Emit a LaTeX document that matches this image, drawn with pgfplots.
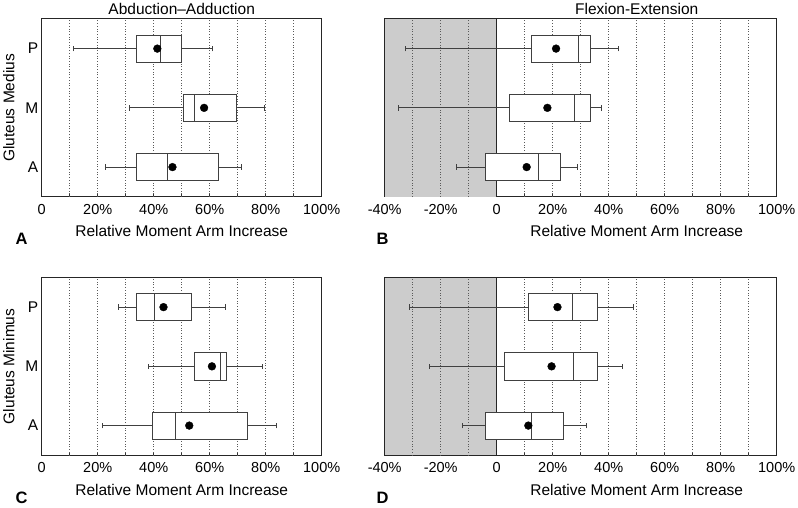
\documentclass[border=0pt]{standalone}
\usepackage{fontspec}
\setmainfont{Liberation Sans}
\usepackage{pgfplots}
\pgfplotsset{compat=1.18}
\pgfplotsset{
  panel/.style={
    scale only axis, height=177.7pt, anchor=south west,
    ymin=0.5, ymax=3.5, xmax=100, ytick={1,2,3},
    axis line style={black!85, line width=1pt},
    tick align=inside, major tick length=2.5pt, minor tick length=2.5pt,
    xtick pos=left,
    xtick style={black!80, line width=0.6pt},
    ytick style={draw=none},
    xticklabel style={font=\fontsize{14.5}{16}\selectfont, anchor=base, yshift=-17.6pt},
    yticklabel style={font=\fontsize{15.5}{17}\selectfont},
    xlabel={Relative Moment Arm Increase},
    label style={font=\fontsize{15.5}{18}\selectfont},
    title style={font=\fontsize{15.5}{18}\selectfont, anchor=base},
    clip=false,
  },
  panelL/.style={panel, width=280pt, xmin=0,
    xtick={0,20,40,60,80,100}, minor xtick={10,30,50,70,90},
    xticklabels={0,20\%,40\%,60\%,80\%,100\%},
    yticklabels={A,M,P},
    xlabel style={at={(rel axis cs:0.5,0)}, anchor=base, yshift=-40pt},
    title style={at={(rel axis cs:0.5,1)}, yshift=-1.3pt},
    ylabel style={at={(rel axis cs:0,0.5)}, anchor=base, yshift=27.4pt},
  },
  panelR/.style={panel, width=392pt, xmin=-40,
    xtick={-40,-20,0,20,40,60,80,100}, minor xtick={-30,-10,10,30,50,70,90},
    xticklabels={-40\%,-20\%,0,20\%,40\%,60\%,80\%,100\%},
    yticklabels={},
    xlabel style={at={(rel axis cs:0.642857,0)}, anchor=base, yshift=-40pt},
    title style={at={(rel axis cs:0.642857,1)}, yshift=-1.3pt},
  },
  gridst/.style={dotted, black!65, line width=0.7pt, forget plot},
  bxs/.style={draw=black!75, line width=0.85pt, solid, forget plot, mark=none},
  meanst/.style={only marks, mark=*, mark size=3.9pt, black, mark options={fill=black, draw=black}, forget plot},
  shade/.style={fill=black!20, draw=none, forget plot},
  zeroline/.style={black!85, line width=0.9pt, forget plot},
}
% #1 position, #2 lower whisker, #3 Q1, #4 median, #5 Q3, #6 upper whisker
\newcommand{\bx}[6]{%
  \pgfmathsetmacro\blo{#1-0.23}\pgfmathsetmacro\bhi{#1+0.23}%
  \pgfmathsetmacro\clo{#1-0.045}\pgfmathsetmacro\chi{#1+0.045}%
  \edef\doit{%
  \noexpand\addplot[bxs] coordinates {(#2,#1) (#3,#1)};
  \noexpand\addplot[bxs] coordinates {(#5,#1) (#6,#1)};
  \noexpand\addplot[bxs] coordinates {(#2,\clo) (#2,\chi)};
  \noexpand\addplot[bxs] coordinates {(#6,\clo) (#6,\chi)};
  \noexpand\addplot[bxs, fill=white] coordinates {(#3,\blo) (#5,\blo) (#5,\bhi) (#3,\bhi)} -- cycle;
  \noexpand\addplot[bxs] coordinates {(#4,\blo) (#4,\bhi)};
  }\doit}
\newcommand{\grid}[1]{%
  \pgfplotsinvokeforeach{#1}{\addplot[gridst] coordinates {(##1,0.5) (##1,3.5)};}}
\begin{document}
\begin{tikzpicture}
\path[use as bounding box] (0,0) rectangle (798pt,-508pt);

% Panel A
\begin{axis}[panelL, at={(41.7pt,-196.7pt)}, title={Abduction\textendash Adduction}, ylabel={Gluteus Medius}]
\grid{10,20,30,40,50,60,70,80,90}
\bx{3}{11.3}{33.7}{42.5}{49.9}{60.8}
\bx{2}{31.2}{50.6}{54.5}{69.5}{79.5}
\bx{1}{22.7}{33.9}{44.9}{63.2}{71.2}
\addplot[meanst] coordinates {(41.3,3) (58.0,2) (46.7,1)};
\end{axis}

% Panel B
\begin{axis}[panelR, at={(384.7pt,-196.7pt)}, title={Flexion-Extension}]
\addplot[shade] coordinates {(-40,0.5) (0,0.5) (0,3.5) (-40,3.5)} -- cycle;
\grid{-30,-20,-10,10,20,30,40,50,60,70,80,90}
\addplot[zeroline] coordinates {(0,0.5) (0,3.5)};
\bx{3}{-32.7}{12.4}{29.2}{33.3}{43.6}
\bx{2}{-35.1}{4.4}{27.9}{33.3}{37.5}
\bx{1}{-14.4}{-4.0}{14.9}{22.6}{29.0}
\addplot[meanst] coordinates {(21.2,3) (18.1,2) (10.7,1)};
\end{axis}

% Panel C
\begin{axis}[panelL, at={(41.7pt,-455.2pt)}, ylabel={Gluteus Minimus}]
\grid{10,20,30,40,50,60,70,80,90}
\bx{3}{27.4}{33.8}{40.4}{53.3}{65.7}
\bx{2}{38.0}{54.5}{63.9}{66.1}{78.9}
\bx{1}{21.8}{39.4}{47.9}{73.5}{83.8}
\addplot[meanst] coordinates {(43.5,3) (60.8,2) (52.7,1)};
\end{axis}

% Panel D
\begin{axis}[panelR, at={(384.7pt,-455.2pt)}]
\addplot[shade] coordinates {(-40,0.5) (0,0.5) (0,3.5) (-40,3.5)} -- cycle;
\grid{-30,-20,-10,10,20,30,40,50,60,70,80,90}
\addplot[zeroline] coordinates {(0,0.5) (0,3.5)};
\bx{3}{-31.2}{11.2}{27.1}{35.8}{49.0}
\bx{2}{-24.0}{2.9}{27.4}{36.1}{44.9}
\bx{1}{-12.1}{-3.9}{12.5}{23.8}{32.1}
\addplot[meanst] coordinates {(21.7,3) (19.6,2) (11.3,1)};
\end{axis}

\foreach \l/\x/\y in {A/15.5/244, B/376.5/244, C/15.5/503, D/376.5/503}
  \node[anchor=base west, inner sep=0, font=\fontsize{16.5}{18}\selectfont\bfseries] at (\x pt,-\y pt) {\l};
\end{tikzpicture}
\end{document}
